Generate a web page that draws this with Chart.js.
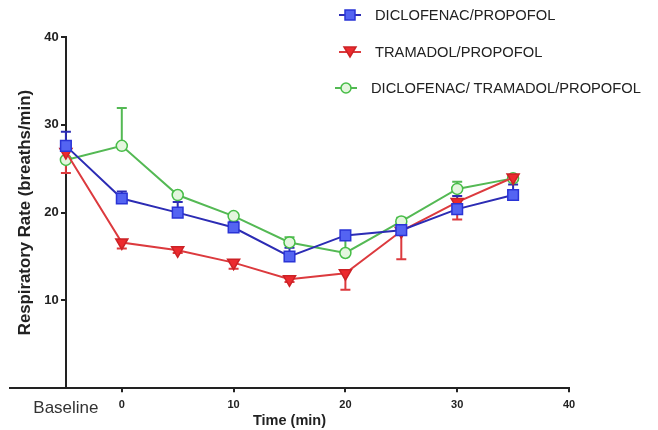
<!DOCTYPE html>
<html>
<head>
<meta charset="utf-8">
<script src="https://cdn.jsdelivr.net/npm/chart.js@4.4.1/dist/chart.umd.min.js"></script>
<style>
  html, body { margin: 0; padding: 0; background: #fff; }
  #wrap { position: relative; width: 658px; height: 430px; }
  #legend { position: absolute; left: 0; top: 0; font-family: 'Liberation Sans', Arial, sans-serif; font-size: 14.7px; color: #222; }
  .item { position: absolute; display: flex; align-items: center; white-space: nowrap; height: 16px; }
  .item svg { margin-right: 14px; }
</style>
</head>
<body>
<div id="wrap">
  <canvas id="chart" width="658" height="430"></canvas>
  <div id="legend"></div>
</div>
<script>
const FONT = "'Liberation Sans', Arial, sans-serif";
const BASELINE_X = -5;

const timePoints = ['Baseline', 0, 5, 10, 15, 20, 25, 30, 35];
const seriesNames = ['DICLOFENAC/PROPOFOL', 'TRAMADOL/PROPOFOL', 'DICLOFENAC/ TRAMADOL/PROPOFOL'];

// mean respiratory rate (breaths/min)
const diclofenacVals = [27.6, 21.6, 20.0, 18.3, 15.0, 17.4, 18.0, 20.4, 22.0];
const tramadolVals = [26.9, 16.6, 15.7, 14.3, 12.4, 13.1, 17.9, 21.2, 24.0];
const comboVals = [26.0, 27.6, 22.0, 19.6, 16.6, 15.4, 19.0, 22.7, 23.9];

// error bar lengths (blue / green drawn up, red drawn down)
const diclofenacErr = [1.6, 0.8, 1.2, 0.7, 1.0, 0.4, 1.1, 1.5, 1.2];
const tramadolErr = [2.4, 0.7, 0.3, 0.7, 0.3, 1.9, 3.2, 2.0, 0.3];
const comboErr = [0.3, 4.3, 0.3, 0.3, 0.6, 1.5, 0.4, 0.8, 0.3];

const xTickValues = [BASELINE_X, 0, 10, 20, 30, 40];
const xTickLabels = ['Baseline', '0', '10', '20', '30', '40'];
const yTickValues = [10, 20, 30, 40];

const xAxisTitle = 'Time (min)';
const yAxisTitle = 'Respiratory Rate (breaths/min)';

const xVals = timePoints.map((t) => (t === 'Baseline' ? BASELINE_X : t));
const toPoints = (vals) => vals.map((v, i) => ({ x: xVals[i], y: v }));

const styles = [
    { line: '#2c2cb4', fill: '#5464f2', edge: '#2a34d6', shape: 'rect', r: 7.5, rot: 0, dir: 1 },
    { line: '#dc3a3e', fill: '#ec2a2e', edge: '#cc2226', shape: 'triangle', r: 7, rot: 180, dir: -1 },
    { line: '#54b954', fill: '#e4f6de', edge: '#47bd47', shape: 'circle', r: 5.5, rot: 0, dir: 1 },
];
const allVals = [diclofenacVals, tramadolVals, comboVals];
const allErr = [diclofenacErr, tramadolErr, comboErr];

const datasets = seriesNames.map((name, i) => ({
    label: name,
    data: toPoints(allVals[i]),
    errors: allErr[i],
    errDir: styles[i].dir,
    borderColor: styles[i].line,
    borderWidth: 2,
    pointStyle: styles[i].shape,
    pointRadius: styles[i].r,
    pointRotation: styles[i].rot,
    pointBackgroundColor: styles[i].fill,
    pointBorderColor: styles[i].edge,
    pointBorderWidth: 1.5,
    tension: 0,
    fill: false,
}));

// vertical error bars with caps
const errorBars = {
    id: 'errorBars',
    beforeDatasetsDraw(chart) {
        const { ctx } = chart;
        const x = chart.scales.x;
        const y = chart.scales.y;
        chart.data.datasets.forEach((ds) => {
            ctx.save();
            ctx.strokeStyle = ds.borderColor;
            ctx.lineWidth = 2;
            ds.errors.forEach((e, j) => {
                const pt = ds.data[j];
                const px = x.getPixelForValue(pt.x);
                const py0 = y.getPixelForValue(pt.y);
                const py1 = y.getPixelForValue(pt.y + ds.errDir * e);
                ctx.beginPath();
                ctx.moveTo(px, py0);
                ctx.lineTo(px, py1);
                ctx.moveTo(px - 5, py1);
                ctx.lineTo(px + 5, py1);
                ctx.stroke();
            });
            ctx.restore();
        });
    },
};

// rotated y title drawn beside the axis
const yTitle = {
    id: 'yTitle',
    afterDraw(chart) {
        const { ctx, chartArea } = chart;
        ctx.save();
        ctx.translate(25, (chartArea.top + chartArea.bottom) / 2);
        ctx.rotate(-Math.PI / 2);
        ctx.font = 'bold 16.8px ' + FONT;
        ctx.fillStyle = '#222';
        ctx.textAlign = 'center';
        ctx.textBaseline = 'middle';
        ctx.fillText(yAxisTitle, 0, 0);
        ctx.restore();
    },
};

const isBaseTick = (c) => c.tick && c.tick.value === BASELINE_X;

new Chart(document.getElementById('chart'), {
    type: 'line',
    data: { datasets },
    plugins: [errorBars, yTitle],
    options: {
        responsive: false,
        animation: false,
        events: [],
        layout: { padding: { left: 10, right: 89, top: 37, bottom: 0 } },
        plugins: {
            legend: { display: false },
            tooltip: { enabled: false },
        },
        scales: {
            x: {
                type: 'linear',
                min: -10,
                max: 40,
                afterBuildTicks: (s) => {
                    s.ticks = xTickValues.map((v) => ({ value: v }));
                },
                ticks: {
                    autoSkip: false,
                    maxRotation: 0,
                    padding: 6,
                    color: (c) => (isBaseTick(c) ? '#333' : '#222'),
                    callback: (v, idx) => xTickLabels[idx],
                    font: (c) => (isBaseTick(c)
                        ? { family: FONT, size: 17, weight: 'normal' }
                        : { family: FONT, size: 11, weight: 'bold' }),
                },
                grid: {
                    drawOnChartArea: false,
                    tickLength: 4,
                    lineWidth: 2,
                    color: (c) => (isBaseTick(c) ? 'rgba(0,0,0,0)' : '#222'),
                },
                border: { color: '#222', width: 2 },
                title: {
                    display: true,
                    text: xAxisTitle,
                    color: '#222',
                    font: { family: FONT, size: 14.5, weight: 'bold' },
                    padding: { top: -12, bottom: 0 },
                },
            },
            y: {
                min: 0,
                max: 40,
                position: { x: BASELINE_X },
                afterBuildTicks: (s) => {
                    s.ticks = yTickValues.map((v) => ({ value: v }));
                },
                ticks: {
                    color: '#222',
                    padding: 3,
                    // axis sits inside the plot, so labels need their own gap
                    callback: (v) => v + '  ',
                    font: { family: FONT, size: 13, weight: 'bold' },
                },
                grid: { drawOnChartArea: false, tickLength: 4, lineWidth: 2, color: '#222' },
                border: { color: '#222', width: 2 },
            },
        },
    },
});

// legend, stacked at the top right
const legendPos = [
    { left: 339, top: 7 },
    { left: 339, top: 44 },
    { left: 335, top: 80 },
];
const markerSvg = (s) => {
    let m = '';
    if (s.shape === 'rect') m = `<rect x="6" y="2" width="10" height="10" fill="${s.fill}" stroke="${s.edge}" stroke-width="1.5"/>`;
    else if (s.shape === 'triangle') m = `<polygon points="5,2 17,2 11,12" fill="${s.fill}" stroke="${s.edge}" stroke-width="1.5"/>`;
    else m = `<circle cx="11" cy="7" r="5" fill="${s.fill}" stroke="${s.edge}" stroke-width="1.5"/>`;
    return `<svg width="22" height="14"><line x1="0" y1="7" x2="22" y2="7" stroke="${s.line}" stroke-width="2"/>${m}</svg>`;
};
const legend = document.getElementById('legend');
seriesNames.forEach((name, i) => {
    const item = document.createElement('div');
    item.className = 'item';
    item.style.left = legendPos[i].left + 'px';
    item.style.top = legendPos[i].top + 'px';
    item.innerHTML = markerSvg(styles[i]) + '<span></span>';
    item.querySelector('span').textContent = name;
    legend.appendChild(item);
});
</script>
</body>
</html>
